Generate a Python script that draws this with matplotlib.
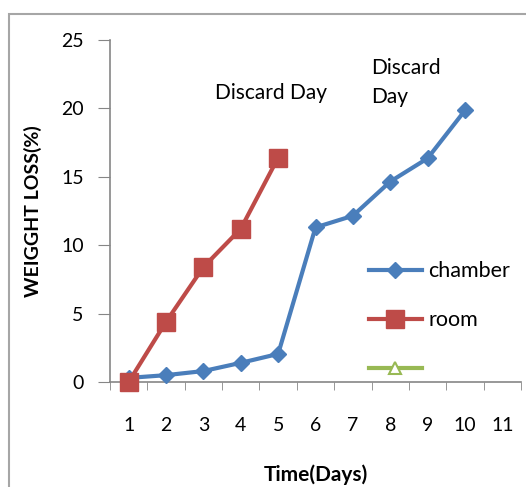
import matplotlib.pyplot as plt
from matplotlib.patches import Rectangle

plt.rcParams['font.family'] = ['Lato', 'DejaVu Sans']

days = [1, 2, 3, 4, 5, 6, 7, 8, 9, 10, 11]
chamber_days = [1, 2, 3, 4, 5, 6, 7, 8, 9, 10]
chamber = [0.3, 0.5, 0.8, 1.4, 2.05, 11.3, 12.15, 14.65, 16.35, 19.85]
room_days = [1, 2, 3, 4, 5]
room = [0.0, 4.4, 8.4, 11.2, 16.4]
third_days = []
third = []

blue = '#4A7EBB'
red = '#BE4B48'
green = '#98B954'
grey = '#868686'

fig = plt.figure(figsize=(5.26, 4.87), dpi=100)
# outer chart border
fig.patches.append(Rectangle((9 / 526, -0.1), 1.2, (487 - 14) / 487 + 0.1,
                             transform=fig.transFigure, fill=False,
                             edgecolor='#A6A6A6', linewidth=1.5))
ax = fig.add_axes([110 / 526, (487 - 382) / 487, 411 / 526, 342 / 487])

ax.plot(chamber_days, chamber, color=blue, lw=3, marker='D', ms=8,
        label='chamber', clip_on=False, zorder=3)
ax.plot(room_days, room, color=red, lw=3, marker='s', ms=13,
        label='room', clip_on=False, zorder=4)
ax.plot(third_days, third, color=green, lw=3, marker='^', ms=9,
        mfc='white', mec=green, mew=1.5, label=' ')

ax.set_xlim(0.5, 11.5)
ax.set_ylim(0, 25)
ax.set_yticks([0, 5, 10, 15, 20, 25])
ax.set_xticks(days)
ax.set_xticks([d + 0.5 for d in [0] + days], minor=True)
ax.tick_params(axis='x', which='major', length=0, pad=25, labelsize=14)
ax.tick_params(axis='x', which='minor', length=6, color=grey, direction='out')
ax.tick_params(axis='y', length=9, color=grey, pad=10, labelsize=14)

for s in ['top', 'right']:
    ax.spines[s].set_visible(False)
for s in ['left', 'bottom']:
    ax.spines[s].set_color(grey)
    ax.spines[s].set_linewidth(1.2)

ax.set_ylabel('WEIGGHT LOSS(%)', fontsize=14, fontweight='bold', labelpad=14)
ax.set_xlabel('Time(Days)', fontsize=15, fontweight='bold', labelpad=22)

ax.text(3.31, 21.1, 'Discard Day', fontsize=15, va='center')
ax.text(7.5, 21.9, 'Discard\nDay', fontsize=15, va='center', linespacing=1.6)

h, l = ax.get_legend_handles_labels()
ax.legend(h, ['chamber', 'room', ''], frameon=False, fontsize=15.5,
          handlelength=2.45, labelspacing=1.35, handletextpad=0.3,
          loc='center left', bbox_to_anchor=(0.583, 0.18))

fig.savefig('out.png', dpi=100)
